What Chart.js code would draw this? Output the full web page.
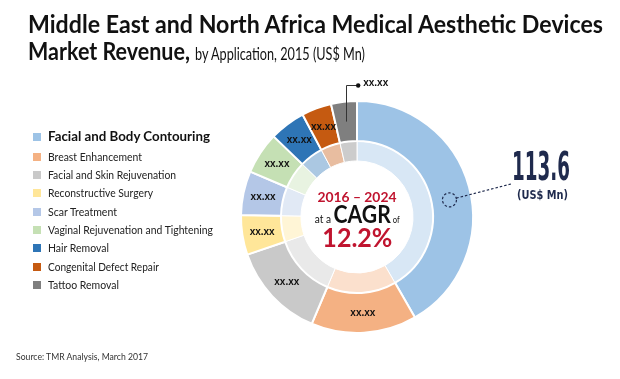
<!DOCTYPE html>
<html>
<head>
<meta charset="utf-8">
<script src="https://cdn.jsdelivr.net/npm/chart.js@4.4.0/dist/chart.umd.min.js"></script>
<style>
  html, body { margin:0; padding:0; background:#fff; }
  #wrap { position:relative; width:620px; height:379px; overflow:hidden; background:#fff; font-family: Lato, "Open Sans", sans-serif; }
  #c { position:absolute; left:0; top:0; }
  .t { position:absolute; white-space:nowrap; line-height:1; }
  .fit { display:inline-block; white-space:nowrap; transform-origin:left center; }
  .cfit { display:inline-block; white-space:nowrap; transform-origin:center center; }
  .ctr { position:absolute; left:257px; width:200px; text-align:center; line-height:1; white-space:nowrap; }
  .sq { position:absolute; width:8px; height:8px; }
</style>
</head>
<body>
<div id="wrap">
  <canvas id="c" width="620" height="379"></canvas>

  <div class="t" style="left:28px; top:11px; font-size:25px; font-weight:700; color:#111;"><span class="fit" data-w="575">Middle East and North Africa Medical Aesthetic Devices</span></div>
  <div class="t" style="left:28px; top:38px; font-size:25px; font-weight:700; color:#111;"><span class="fit" data-w="162">Market Revenue,</span></div>
  <div class="t" style="left:195px; top:44px; font-size:18px; font-weight:400; color:#111;"><span class="fit" data-w="170">by Application, 2015 (US$ Mn)</span></div>

  <div id="legend"></div>

  <div class="ctr" style="top:190px; font-size:14px; font-weight:700; color:#C0142F;"><span class="cfit" data-w="79">2016 – 2024</span></div>
  <div class="ctr" style="top:201px; font-size:25px; color:#111;"><span class="cfit" data-w="85"><span style="font-size:12px;">at a </span><b>CAGR</b><span style="font-size:9px;"> of</span></span></div>
  <div class="ctr" style="top:224px; font-size:26px; font-weight:700; color:#C0142F;"><span class="cfit" data-w="70">12.2%</span></div>

  <div class="t" id="bigval" style="left:512px; top:147px; font-size:39px; font-weight:700; color:#1F2A4D; font-family:'Liberation Sans Narrow','DejaVu Sans Condensed','Liberation Sans',sans-serif;"><span class="fit" data-w="58"></span></div>
  <div class="t" style="left:517px; top:188px; font-size:13px; font-weight:700; color:#1F2A4D; font-family:'Liberation Sans Narrow','DejaVu Sans Condensed','Liberation Sans',sans-serif;"><span class="fit" data-w="51">(US$ Mn)</span></div>

  <div class="t" style="left:16px; top:352px; font-size:9px; color:#333;"><span class="fit" data-w="132">Source: TMR Analysis, March 2017</span></div>
</div>

<script>
// ---- data ----
const categories = [
  'Facial and Body Contouring',
  'Breast Enhancement',
  'Facial and Skin Rejuvenation',
  'Reconstructive Surgery',
  'Scar Treatment',
  'Vaginal Rejuvenation and Tightening',
  'Hair Removal',
  'Congenital Defect Repair',
  'Tattoo Removal'
];
const values = [113.6, 40.1, 36.4, 15.1, 16.7, 15.9, 13.6, 11.4, 9.8];
const valueLabels = ['113.6', 'xx.xx', 'xx.xx', 'xx.xx', 'xx.xx', 'xx.xx', 'xx.xx', 'xx.xx', 'xx.xx'];
const colors = ['#9DC3E6', '#F4B183', '#C9C9C9', '#FFE699', '#B4C7E7', '#C5E0B4', '#2E75B6', '#C55A11', '#7F7F7F'];

// ---- layout (not data) ----
const legendWidths = [162, 94, 128, 105, 69, 165, 61, 111, 71];
const legendY = [137, 157, 175, 193, 212, 230, 248, 267, 285];

function pale(hex, a) {
  const n = parseInt(hex.slice(1), 16);
  const r = (n >> 16) & 255, g = (n >> 8) & 255, b = n & 255;
  const m = v => Math.round(255 - a * (255 - v));
  return `rgb(${m(r)},${m(g)},${m(b)})`;
}
const paleColors = colors.map(c => pale(c, 0.4));

// legend
const lg = document.getElementById('legend');
categories.forEach((name, i) => {
  const sq = document.createElement('div');
  sq.className = 'sq';
  sq.style.left = '33px';
  sq.style.top = (legendY[i] - 4) + 'px';
  sq.style.background = colors[i];
  lg.appendChild(sq);
  const d = document.createElement('div');
  d.className = 't';
  const fs = i === 0 ? 14 : 11;
  d.style.left = '48px';
  d.style.top = (legendY[i] - fs * 0.55) + 'px';
  d.style.fontSize = fs + 'px';
  d.style.fontWeight = i === 0 ? '700' : '400';
  d.style.color = i === 0 ? '#111' : '#222';
  d.innerHTML = `<span class="fit" data-w="${legendWidths[i]}"></span>`;
  d.firstChild.textContent = name;
  lg.appendChild(d);
});
document.querySelector('#bigval .fit').textContent = valueLabels[0];

function fitAll() {
  document.querySelectorAll('.fit, .cfit').forEach(el => {
    const target = parseFloat(el.dataset.w);
    el.style.transform = 'none';
    const w = el.getBoundingClientRect().width;
    if (w > 0) el.style.transform = `scaleX(${target / w})`;
  });
}

const labelPlugin = {
  id: 'segLabels',
  afterDatasetsDraw(chart) {
    const ctx = chart.ctx;
    const meta = chart.getDatasetMeta(0);
    const n = meta.data.length;
    ctx.save();
    ctx.font = 'bold 10px "Liberation Sans", Arial, sans-serif';
    ctx.fillStyle = '#111';
    ctx.textAlign = 'center';
    ctx.textBaseline = 'middle';
    meta.data.forEach((arc, i) => {
      if (i === 0 || i === n - 1) return;
      const p = arc.getCenterPoint();
      ctx.fillText(valueLabels[i], p.x, p.y);
    });

    // small callout for last slice
    const last = meta.data[n - 1];
    const p = last.getCenterPoint();
    const topY = last.y - last.outerRadius - 16;
    ctx.strokeStyle = '#333';
    ctx.lineWidth = 1;
    ctx.beginPath();
    ctx.moveTo(Math.round(p.x) + 0.5, p.y);
    ctx.lineTo(Math.round(p.x) + 0.5, topY + 0.5);
    ctx.lineTo(p.x + 12, topY + 0.5);
    ctx.stroke();
    ctx.fillStyle = '#111';
    ctx.beginPath();
    ctx.arc(p.x + 12, topY + 0.5, 2.2, 0, Math.PI * 2);
    ctx.fill();
    ctx.textAlign = 'left';
    ctx.fillText(valueLabels[n - 1], p.x + 17, topY - 2);

    // big callout for first slice
    const a = meta.data[0];
    const ang = a.startAngle + (a.endAngle - a.startAngle) * 0.53;
    const r = (a.innerRadius + a.outerRadius) / 2 - 2;
    const cx = a.x + r * Math.cos(ang), cy = a.y + r * Math.sin(ang);
    ctx.strokeStyle = '#1F2A4D';
    ctx.lineWidth = 1.2;
    ctx.setLineDash([2.5, 2]);
    ctx.beginPath();
    ctx.arc(cx, cy, 7, 0, Math.PI * 2);
    ctx.stroke();
    const ex = 511, ey = 184;
    const dx = ex - cx, dy = ey - cy, dl = Math.hypot(dx, dy);
    ctx.beginPath();
    ctx.moveTo(cx + dx / dl * 7, cy + dy / dl * 7);
    ctx.lineTo(ex, ey);
    ctx.stroke();
    ctx.restore();
  }
};

new Chart(document.getElementById('c'), {
  type: 'doughnut',
  data: {
    labels: categories,
    datasets: [
      { data: values, backgroundColor: colors, borderColor: '#fff', borderWidth: 2, hoverBorderWidth: 2, weight: 2 },
      { data: values, backgroundColor: paleColors, borderColor: '#fff', borderWidth: 1, hoverBorderWidth: 1, weight: 1 }
    ]
  },
  options: {
    responsive: false,
    devicePixelRatio: 1,
    animation: false,
    events: [],
    cutout: '48.3%',
    layout: { padding: { left: 240, right: 146, top: 100, bottom: 45 } },
    plugins: { legend: { display: false }, tooltip: { enabled: false } }
  },
  plugins: [labelPlugin]
});

fitAll();
if (document.fonts && document.fonts.ready) document.fonts.ready.then(fitAll);
</script>
</body>
</html>
